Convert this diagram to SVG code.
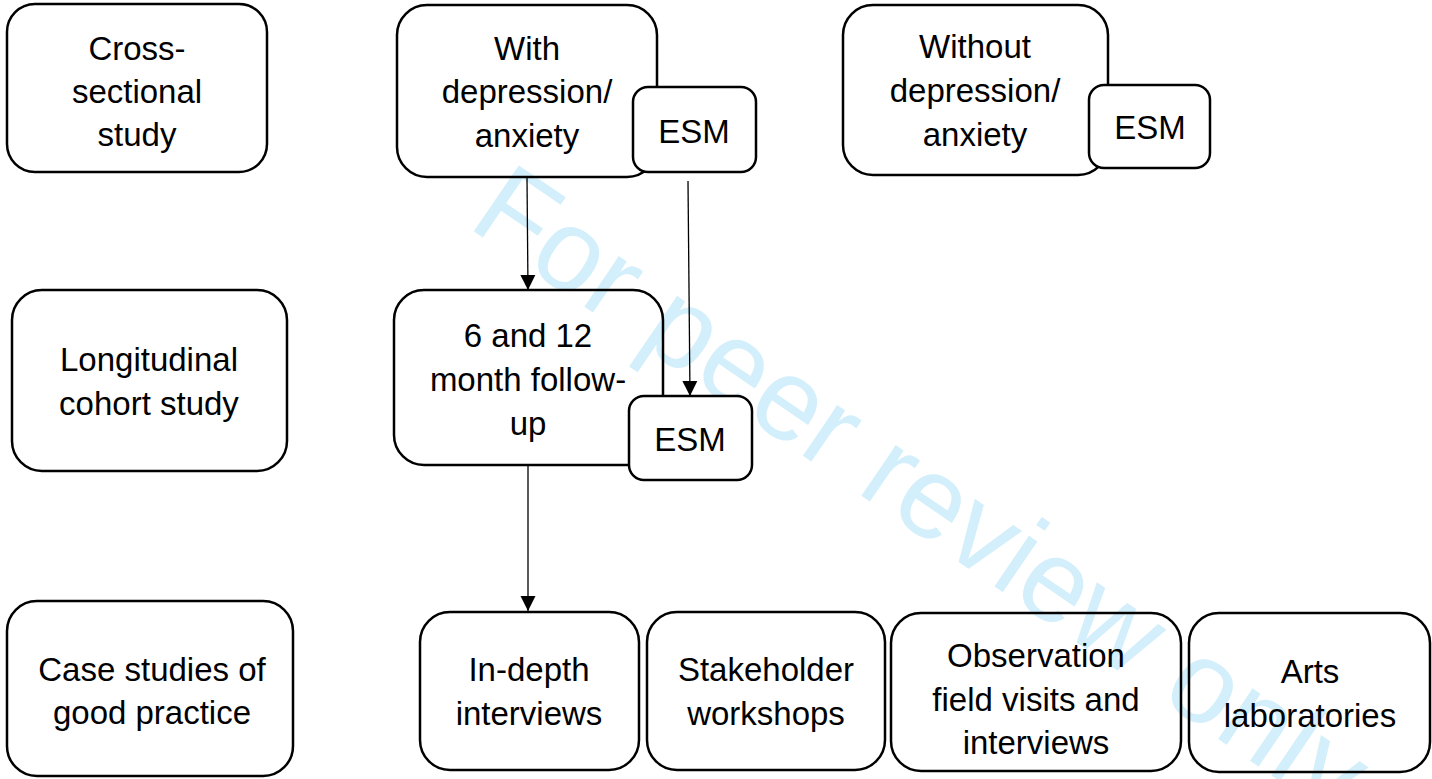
<svg xmlns="http://www.w3.org/2000/svg" width="1432" height="779" viewBox="0 0 1432 779">
  <defs>
    <style>
      .box { fill: none; stroke: #000; stroke-width: 2.5; }
      .esm { fill: #fff; stroke: #000; stroke-width: 2.5; }
      .t { font-family: "Liberation Sans", Arial, sans-serif; font-size: 33px; fill: #000; text-anchor: middle; }
      .conn { stroke: #000; stroke-width: 1.3; fill: none; marker-end: url(#arrow); }
      .wm { font-family: "Liberation Sans", Arial, sans-serif; font-size: 116px; fill: #d3effb; }
    </style>
    <marker id="arrow" markerUnits="userSpaceOnUse" markerWidth="16" markerHeight="16" viewBox="0 0 16 16" refX="15" refY="8" orient="auto">
      <path d="M0,0.5 L15,8 L0,15.5 Z" fill="#000"/>
    </marker>
  </defs>

  <rect width="1432" height="779" fill="#fff"/>

  <text class="wm" transform="translate(466,226) rotate(34.3)">For peer review only</text>

  <g id="cross-sectional">
    <rect class="box" x="7" y="4" width="260" height="168" rx="28"/>
    <text class="t" x="137" y="60">Cross-</text>
    <text class="t" x="137" y="103">sectional</text>
    <text class="t" x="137" y="146">study</text>
  </g>

  <g id="longitudinal">
    <rect class="box" x="12" y="290" width="275" height="181" rx="30"/>
    <text class="t" x="149" y="371">Longitudinal</text>
    <text class="t" x="149" y="415">cohort study</text>
  </g>

  <g id="case-studies">
    <rect class="box" x="7" y="601" width="286" height="175" rx="30"/>
    <text class="t" x="152" y="681">Case studies of</text>
    <text class="t" x="152" y="724">good practice</text>
  </g>

  <g id="with-depression">
    <rect class="box" x="397" y="5" width="260" height="172" rx="30"/>
    <text class="t" x="527" y="60">With</text>
    <text class="t" x="527" y="103">depression/</text>
    <text class="t" x="527" y="147">anxiety</text>
  </g>
  <g id="esm-with">
    <rect class="esm" x="633" y="87" width="123" height="85" rx="15"/>
    <text class="t" x="694" y="143">ESM</text>
  </g>

  <g id="without-depression">
    <rect class="box" x="843" y="5" width="265" height="170" rx="30"/>
    <text class="t" x="975" y="58">Without</text>
    <text class="t" x="975" y="102">depression/</text>
    <text class="t" x="975" y="146">anxiety</text>
  </g>
  <g id="esm-without">
    <rect class="esm" x="1089" y="85" width="121" height="83" rx="15"/>
    <text class="t" x="1150" y="139">ESM</text>
  </g>

  <g id="follow-up">
    <rect class="box" x="394" y="290" width="269" height="175" rx="30"/>
    <text class="t" x="528" y="347">6 and 12</text>
    <text class="t" x="528" y="391">month follow-</text>
    <text class="t" x="528" y="435">up</text>
  </g>
  <g id="esm-follow-up">
    <rect class="esm" x="629" y="396" width="123" height="84" rx="15"/>
    <text class="t" x="690" y="451">ESM</text>
  </g>

  <g id="in-depth">
    <rect class="box" x="420" y="612" width="219" height="158" rx="30"/>
    <text class="t" x="529" y="681">In-depth</text>
    <text class="t" x="529" y="725">interviews</text>
  </g>

  <g id="stakeholder">
    <rect class="box" x="647" y="612" width="238" height="158" rx="30"/>
    <text class="t" x="766" y="681">Stakeholder</text>
    <text class="t" x="766" y="725">workshops</text>
  </g>

  <g id="observation">
    <rect class="box" x="891" y="613" width="290" height="158" rx="30"/>
    <text class="t" x="1036" y="667">Observation</text>
    <text class="t" x="1036" y="711">field visits and</text>
    <text class="t" x="1036" y="754">interviews</text>
  </g>

  <g id="arts">
    <rect class="box" x="1189" y="613" width="241" height="159" rx="30"/>
    <text class="t" x="1310" y="683">Arts</text>
    <text class="t" x="1310" y="727">laboratories</text>
  </g>

  <g id="connectors">
    <path class="conn" d="M527,178 L528,290"/>
    <path class="conn" d="M688,181 L690,396"/>
    <path class="conn" d="M528,466 L528,611"/>
  </g>
</svg>
